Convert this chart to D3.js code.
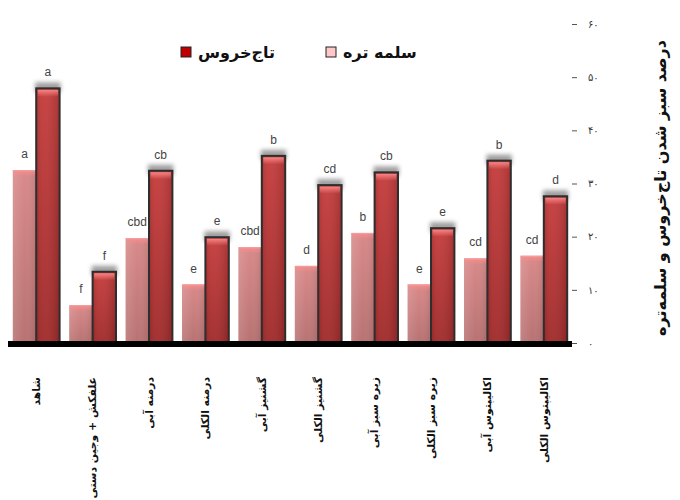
<!DOCTYPE html>
<html><head><meta charset="utf-8">
<script src="https://cdn.jsdelivr.net/npm/d3@7/dist/d3.min.js"></script>
<style>body{margin:0;background:#fff}svg{display:block}</style>
</head><body><svg id="c" width="680" height="500"></svg>
<script>
const categories = ["شاهد","علفکش + وجین دستی","درمنه آبی","درمنه الکلی","گشنیز آبی","گشنیز الکلی","زیره سبز آبی","زیره سبز الکلی","اکالیپتوس آبی","اکالیپتوس الکلی"];
const salmeh = [32.5, 7.1, 19.7, 11.0, 18.0, 14.5, 20.7, 11.0, 15.9, 16.4];
const tajkhorus = [47.9, 13.4, 32.4, 19.9, 35.2, 29.7, 32.1, 21.6, 34.3, 27.6];
const salmehLetters = ["a","f","cbd","e","cbd","d","b","e","cd","cd"];
const tajLetters = ["a","f","cb","e","b","cd","cb","e","b","d"];
const yTicks = [0,10,20,30,40,50,60];
const seriesNames = ["سلمه تره","تاج‌خروس"];
const yTitle = "درصد سبز شدن تاج‌خروس و سلمه‌تره";

const svg = d3.select("#c");
const fa = "DejaVu Sans, Noto Sans, sans-serif";
const toFa = s => String(s).replace(/\d/g, d => "۰۱۲۳۴۵۶۷۸۹"[d]);

const x = d3.scaleBand().domain(categories).range([8, 572]).paddingInner(0.17).paddingOuter(0.085);
const y = d3.scaleLinear().domain([0, 60]).range([343, 24]);
const bw = x.bandwidth() / 2;

const defs = svg.append("defs");
const gr = defs.append("linearGradient").attr("id","gRed").attr("x1",0).attr("x2",0).attr("y1",0).attr("y2",1);
gr.append("stop").attr("offset","0%").attr("stop-color","#c63c3c");
gr.append("stop").attr("offset","100%").attr("stop-color","#a12a2a");
const grh = defs.append("linearGradient").attr("id","gRedH").attr("x1",0).attr("x2",1).attr("y1",0).attr("y2",0);
grh.append("stop").attr("offset","0%").attr("stop-color","#000").attr("stop-opacity",0.12);
grh.append("stop").attr("offset","30%").attr("stop-color","#fff").attr("stop-opacity",0.04);
grh.append("stop").attr("offset","100%").attr("stop-color","#000").attr("stop-opacity",0.15);
const gp = defs.append("linearGradient").attr("id","gPink").attr("x1",0).attr("x2",0).attr("y1",0).attr("y2",1);
gp.append("stop").attr("offset","0%").attr("stop-color","#d98a8a");
gp.append("stop").attr("offset","100%").attr("stop-color","#b87272");
const gph = defs.append("linearGradient").attr("id","gPinkH").attr("x1",0).attr("x2",1).attr("y1",0).attr("y2",0);
gph.append("stop").attr("offset","0%").attr("stop-color","#fff").attr("stop-opacity",0.12);
gph.append("stop").attr("offset","50%").attr("stop-color","#fff").attr("stop-opacity",0.0);
gph.append("stop").attr("offset","100%").attr("stop-color","#000").attr("stop-opacity",0.1);
const hl = defs.append("linearGradient").attr("id","gHi").attr("x1",0).attr("x2",0).attr("y1",0).attr("y2",1);
hl.append("stop").attr("offset","0%").attr("stop-color","#ff8a8a").attr("stop-opacity",0.9);
hl.append("stop").attr("offset","100%").attr("stop-color","#ff8a8a").attr("stop-opacity",0);
defs.append("filter").attr("id","blur").attr("x","-50%").attr("y","-50%").attr("width","200%").attr("height","200%")
  .append("feGaussianBlur").attr("stdDeviation",2);

// pink bars
const pg = svg.append("g");
categories.forEach((c,i) => {
  const x0 = x(c), top = y(salmeh[i]), h = y(0) - top;
  pg.append("rect").attr("x",x0).attr("y",top).attr("width",bw).attr("height",h).attr("fill","url(#gPink)");
  pg.append("rect").attr("x",x0).attr("y",top).attr("width",bw).attr("height",h).attr("fill","url(#gPinkH)");
  pg.append("rect").attr("x",x0+1).attr("y",top).attr("width",bw-2).attr("height",6).attr("fill","url(#gHi)");
  pg.append("line").attr("x1",x0).attr("x2",x0+bw).attr("y1",top+0.5).attr("y2",top+0.5).attr("stroke","#f0a0a0");
  pg.append("text").attr("x",x0+bw/2).attr("y",top-12).attr("text-anchor","middle")
    .attr("font-family","Liberation Sans, Arial, sans-serif").attr("font-size",12).attr("fill","#444").text(salmehLetters[i]);
});

// red bars
const rg = svg.append("g");
categories.forEach((c,i) => {
  const x0 = x(c)+bw, top = y(tajkhorus[i]), h = y(0) - top;
  rg.append("rect").attr("x",x0-1).attr("y",top-6).attr("width",bw+2).attr("height",10).attr("fill","#777").attr("opacity",0.7).attr("filter","url(#blur)");
  rg.append("rect").attr("x",x0).attr("y",top).attr("width",bw).attr("height",h).attr("fill","url(#gRed)");
  rg.append("rect").attr("x",x0).attr("y",top).attr("width",bw).attr("height",h).attr("fill","url(#gRedH)");
  rg.append("rect").attr("x",x0+1.5).attr("y",top+1.5).attr("width",bw-3).attr("height",7).attr("fill","url(#gHi)");
  rg.append("rect").attr("x",x0).attr("y",top).attr("width",bw).attr("height",h).attr("fill","none").attr("stroke","#2e2e2e").attr("stroke-width",2);
  rg.append("text").attr("x",x0+bw/2).attr("y",top-12).attr("text-anchor","middle")
    .attr("font-family","Liberation Sans, Arial, sans-serif").attr("font-size",12).attr("fill","#444").text(tajLetters[i]);
});

// baseline
svg.append("rect").attr("x",8).attr("y",y(0)-2).attr("width",564).attr("height",6).attr("fill","#000");

// right axis
const ax = svg.append("g").attr("transform","translate(572,0)")
  .call(d3.axisRight(y).tickValues(yTicks).tickSize(5).tickPadding(11).tickFormat(d => toFa(d)));
ax.select(".domain").remove();
ax.selectAll(".tick line").attr("stroke","#555");
ax.selectAll(".tick text").attr("font-family",fa).attr("font-size",10).attr("fill","#333");

// category labels
svg.append("g").selectAll("text").data(categories).join("text")
  .attr("transform", d => `translate(${x(d)+x.bandwidth()/2},377) rotate(-90)`)
  .attr("text-anchor","end").attr("dy","0.35em")
  .attr("font-family",fa).attr("font-size",10.8).attr("font-weight","bold").attr("fill","#111")
  .text(d => d);

// y title
svg.append("text").attr("transform","translate(660,188) rotate(-90)").attr("text-anchor","middle").attr("dy","0.35em")
  .attr("font-family",fa).attr("font-size",16).attr("font-weight","bold").attr("fill","#111").text(yTitle);

// legend
const leg = [{name:seriesNames[1], fill:"#c00000", sx:181, tx:198},{name:seriesNames[0], fill:"#ffc8c8", sx:326, tx:343}];
leg.forEach(l => {
  svg.append("rect").attr("x",l.sx).attr("y",47).attr("width",10).attr("height",10).attr("fill",l.fill).attr("stroke","#222").attr("stroke-width",1);
  svg.append("text").attr("x",l.tx).attr("y",52).attr("dy","0.35em").attr("font-family",fa).attr("font-size",16)
    .attr("font-weight","bold").attr("fill","#111").text(l.name);
});
</script></body></html>
